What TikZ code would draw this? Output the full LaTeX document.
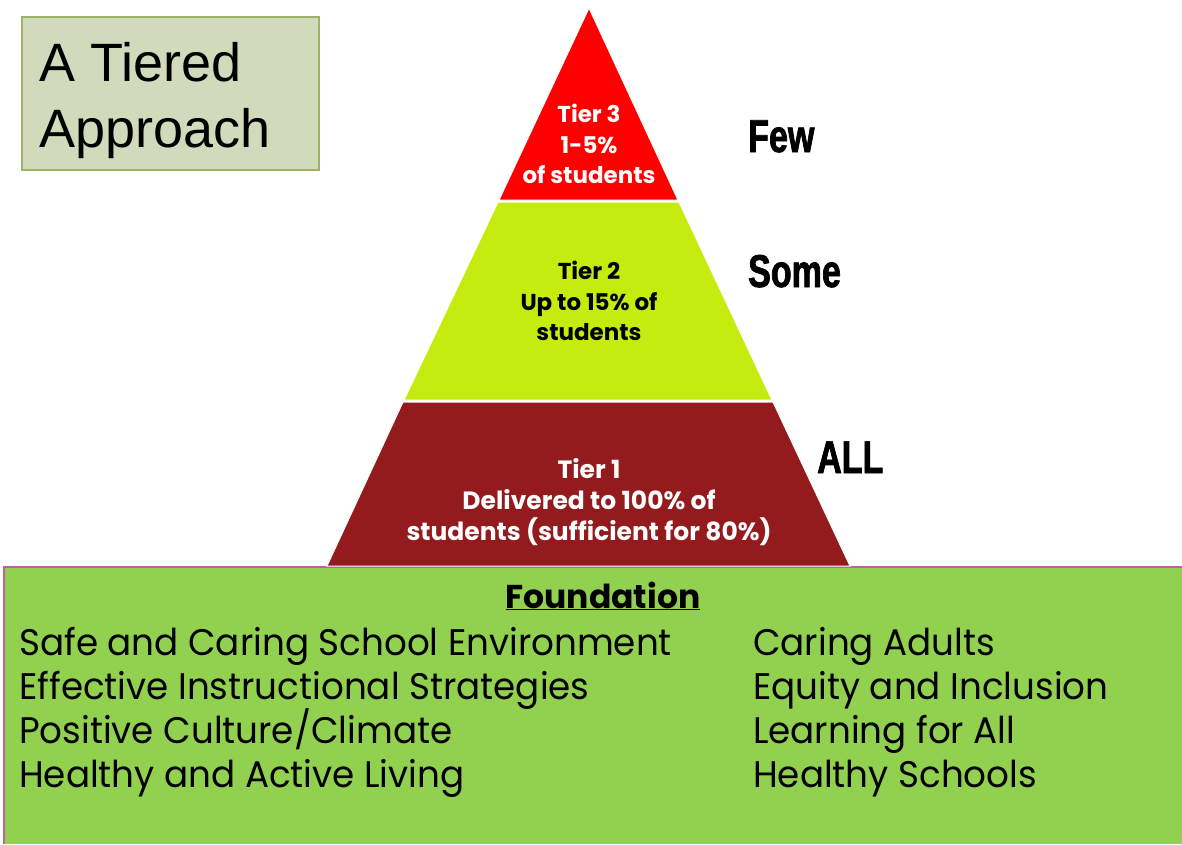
\documentclass[tikz,border=0pt]{standalone}
\usepackage{fontspec}
\setmainfont{Liberation Sans}
\newfontfamily\gothic{Poppins}
\newfontfamily\gothicnarrow[FakeStretch=0.965]{Poppins}
\newfontfamily\heavy[FakeStretch=0.74,BoldFeatures={FakeBold=1.6}]{Liberation Sans}
\usetikzlibrary{positioning}
\definecolor{tierthree}{HTML}{FF0000}
\definecolor{tiertwo}{HTML}{C5EC0E}
\definecolor{tierone}{HTML}{931A1D}
\definecolor{groundgreen}{HTML}{92D050}
\definecolor{groundedge}{HTML}{C25EA6}
\definecolor{titlefill}{HTML}{D1DABA}
\definecolor{titleedge}{HTML}{9BB36A}
\begin{document}
\begin{tikzpicture}[x=1pt,y=-1pt,
    tier/.style={align=center,inner sep=0pt,font=\gothic\bfseries\fontsize{23}{30.5}\selectfont},
    amount/.style={anchor=base west,inner sep=0pt,font=\heavy\bfseries\fontsize{46}{46}\selectfont},
    item/.style={anchor=base west,inner sep=0pt,font=\gothicnarrow\fontsize{37}{37}\selectfont}]
    \useasboundingbox (0,0) rectangle (1182,844);

    % foundation block
    \fill[groundgreen] (4,567) rectangle (1182,844);
    \draw[groundedge,line width=1.2pt] (4,844) -- (4,567) -- (1182,567);

    % pyramid
    \fill[tierone,draw=white,line width=1pt] (327,566) -- (403,402) -- (773,402) -- (850,566) -- cycle;
    \fill[tiertwo,draw=white,line width=1pt] (404,400) -- (498,202) -- (679,202) -- (772,400) -- cycle;
    \fill[tierthree,draw=white,line width=1pt] (589,8) -- (678,200) -- (499,200) -- cycle;

    \node[tier,white] (T3) at (589,144) {Tier 3\\1-5\%\\of students};
    \node[tier] (T2) at (589,301) {Tier 2\\Up to 15\% of\\students};
    \node[tier,white,font=\gothic\bfseries\fontsize{25}{31}\selectfont] (T1) at (589,502) {Tier 1\\Delivered to 100\% of\\students (sufficient for 80\%)};

    \node[amount] (few) at (748,152) {Few};
    \node[amount] (some) at (748,287) {Some};
    \node[amount] (all) at (817,473) {ALL};

    % title box
    \node[draw=titleedge,fill=titlefill,line width=1.5pt,minimum width=297pt,minimum height=153pt,anchor=north west] (box) at (21,16) {};
    \node[anchor=base west,inner sep=0pt,font=\fontsize{54}{66}\selectfont] (title) at (39,81) {A Tiered};
    \node[anchor=base west,inner sep=0pt,font=\fontsize{54}{66}\selectfont] (title2) at (39,147) {Approach};

    % foundation text
    \node[anchor=base,inner sep=0pt,font=\gothic\bfseries\fontsize{33}{33}\selectfont] (found) at (603,608) {\underline{Foundation}};
    \node[item] (L1) at (19,655) {Safe and Caring School Environment};
    \node[item] (L2) at (19,699) {Effective Instructional Strategies};
    \node[item] (L3) at (19,743) {Positive Culture/Climate};
    \node[item] (L4) at (19,787) {Healthy and Active Living};
    \node[item] (R1) at (753,655) {Caring Adults};
    \node[item] (R2) at (753,699) {Equity and Inclusion};
    \node[item] (R3) at (753,743) {Learning for All};
    \node[item] (R4) at (753,787) {Healthy Schools};
\end{tikzpicture}
\end{document}
